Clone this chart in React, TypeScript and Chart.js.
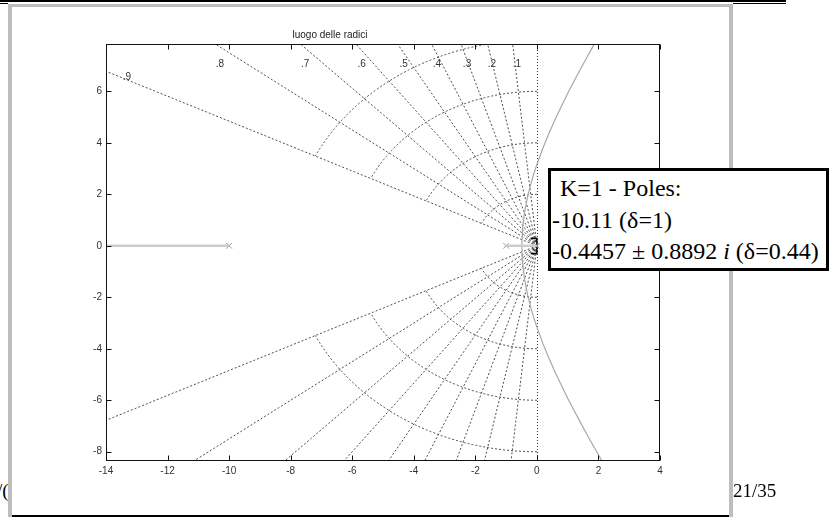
import React, { useEffect, useRef } from 'react';
import { Chart, registerables } from 'chart.js';

Chart.register(...registerables);

// ---- data ----
const titleText = 'luogo delle radici';
const xTicks = [-14, -12, -10, -8, -6, -4, -2, 0, 2, 4];
const yTicks = [-8, -6, -4, -2, 0, 2, 4, 6];
const xMin = -14;
const xMax = 4;
const yMin = -8.36;
const yMax = 7.84;

// open-loop poles (x markers)
const poleRe = [-10, -1, 0];
const poleIm = [0, 0, 0];

// real-axis parts of the locus
const realBranchLeftX = [-10, -14];
const realBranchInnerX = [-1, 0];

// upper complex branch (lower one is its conjugate)
const locusX = [-0.487, -0.48, -0.47, -0.45, -0.4, -0.3, -0.2, -0.1, 0, 0.2, 0.4, 0.6, 0.8, 1.0, 1.2, 1.4, 1.6, 1.8, 2.0, 2.12];
const locusY = [0, 0.36, 0.57, 0.84, 1.3, 1.92, 2.39, 2.8, 3.16, 3.81, 4.39, 4.93, 5.43, 5.92, 6.38, 6.83, 7.27, 7.7, 8.12, 8.37];

// s-grid: damping lines and natural-frequency arcs
const dampingValues = [0.1, 0.2, 0.3, 0.4, 0.5, 0.6, 0.7, 0.8, 0.9];
const wnValues = [2, 4, 6, 8];
const dampingLabels = ['.9', '.8', '.7', '.6', '.5', '.4', '.3', '.2', '.1'];
const dampingLabelX = [-13.32, -10.3, -7.53, -5.69, -4.33, -3.25, -2.27, -1.46, -0.65];
const dampingLabelY = [6.53, 7.05, 7.05, 7.05, 7.05, 7.05, 7.05, 7.05, 7.05];

// small data-cursor bracket near the origin
const cursorX = [-0.2, 0, 0, -0.2];
const cursorY = [0.28, 0.28, -0.3, -0.3];

const sansFont = '"Liberation Sans", Arial, Helvetica, sans-serif';
const serifFont = '"Liberation Serif", "Times New Roman", Times, serif';

const sgridPlugin = {
  id: 'sgrid',
  beforeDatasetsDraw(chart: any) {
    const { ctx, chartArea: a, scales } = chart;
    const x = scales.x;
    const y = scales.y;
    ctx.save();
    ctx.beginPath();
    ctx.rect(a.left, a.top, a.right - a.left, a.bottom - a.top);
    ctx.clip();
    const ox = x.getPixelForValue(0);
    const oy = y.getPixelForValue(0);
    const far = 60;
    ctx.strokeStyle = '#3a3a3a';
    ctx.lineWidth = 0.9;
    ctx.setLineDash([2, 2]);
    for (const z of dampingValues) {
      const s = Math.sqrt(1 - z * z);
      for (const sign of [1, -1]) {
        ctx.beginPath();
        ctx.moveTo(ox, oy);
        ctx.lineTo(x.getPixelForValue(-z * far), y.getPixelForValue(sign * s * far));
        ctx.stroke();
      }
    }
    const phi = Math.acos(Math.max(...dampingValues));
    for (const wn of wnValues) {
      const rx = x.getPixelForValue(wn) - ox;
      const ry = oy - y.getPixelForValue(wn);
      ctx.beginPath();
      ctx.ellipse(ox, oy, rx, ry, 0, -Math.PI / 2, -Math.PI + phi, true);
      ctx.stroke();
      ctx.beginPath();
      ctx.ellipse(ox, oy, rx, ry, 0, Math.PI / 2, Math.PI - phi, false);
      ctx.stroke();
    }
    ctx.setLineDash([1, 2]);
    ctx.lineWidth = 1;
    const vx = Math.round(ox) + 0.5;
    ctx.beginPath();
    ctx.moveTo(vx, a.top);
    ctx.lineTo(vx, a.bottom);
    ctx.stroke();
    ctx.restore();
  },
  afterDatasetsDraw(chart: any) {
    const { ctx, scales } = chart;
    ctx.save();
    ctx.font = '10px ' + sansFont;
    ctx.fillStyle = '#333';
    ctx.textAlign = 'center';
    ctx.textBaseline = 'middle';
    dampingLabels.forEach((t, i) => {
      ctx.fillText(t, scales.x.getPixelForValue(dampingLabelX[i]), scales.y.getPixelForValue(dampingLabelY[i]));
    });
    ctx.restore();
  },
};

const axesBoxPlugin = {
  id: 'axesBox',
  afterDraw(chart: any) {
    const { ctx, chartArea: a, scales } = chart;
    ctx.save();
    ctx.strokeStyle = '#111';
    ctx.lineWidth = 1;
    ctx.setLineDash([]);
    const L = Math.round(a.left) + 0.5;
    const R = Math.round(a.right) - 0.5;
    const T = Math.round(a.top) + 0.5;
    const B = Math.round(a.bottom) - 0.5;
    ctx.strokeRect(L, T, R - L, B - T);
    const len = 5;
    ctx.beginPath();
    for (const v of xTicks) {
      const px = Math.round(scales.x.getPixelForValue(v)) + 0.5;
      ctx.moveTo(px, B);
      ctx.lineTo(px, B - len);
      ctx.moveTo(px, T);
      ctx.lineTo(px, T + len);
    }
    for (const v of yTicks) {
      const py = Math.round(scales.y.getPixelForValue(v)) + 0.5;
      ctx.moveTo(L, py);
      ctx.lineTo(L + len, py);
      ctx.moveTo(R, py);
      ctx.lineTo(R - len, py);
    }
    ctx.stroke();
    ctx.restore();
  },
};

export default function App() {
  const canvasRef = useRef<HTMLCanvasElement | null>(null);

  useEffect(() => {
    const canvas = canvasRef.current;
    if (!canvas) return;
    const pts = (xs: number[], ys: number[]) => xs.map((v, i) => ({ x: v, y: ys[i] }));
    const chart = new Chart(canvas, {
      type: 'scatter',
      data: {
        datasets: [
          {
            data: pts(realBranchLeftX, [0, 0]),
            showLine: true,
            borderColor: '#cdcdcd',
            borderWidth: 2.5,
            pointRadius: 0,
            clip: 0,
          },
          {
            data: pts(realBranchInnerX, [0, 0]),
            showLine: true,
            borderColor: '#cdcdcd',
            borderWidth: 2.5,
            pointRadius: 0,
            clip: 0,
          },
          {
            data: pts(locusX, locusY),
            showLine: true,
            borderColor: '#a8a8a8',
            borderWidth: 1.2,
            pointRadius: 0,
            clip: 0,
          },
          {
            data: pts(locusX, locusY.map((v) => -v)),
            showLine: true,
            borderColor: '#a8a8a8',
            borderWidth: 1.2,
            pointRadius: 0,
            clip: 0,
          },
          {
            data: pts(poleRe, poleIm),
            showLine: false,
            pointStyle: 'crossRot',
            pointRadius: 4,
            borderColor: '#999',
            borderWidth: 1,
            clip: 0,
          },
          {
            data: pts(cursorX, cursorY),
            showLine: true,
            borderColor: '#000',
            borderWidth: 1.5,
            pointRadius: 0,
            clip: 0,
          },
        ],
      } as any,
      options: {
        responsive: false,
        animation: false,
        events: [],
        layout: { padding: { left: 0, right: 169, top: 0, bottom: 0 } },
        plugins: {
          legend: { display: false },
          tooltip: { enabled: false },
          title: {
            display: true,
            text: titleText,
            color: '#222',
            font: { family: sansFont, size: 10, weight: 'normal' },
            padding: { top: 29, bottom: 3 },
          },
        },
        scales: {
          x: {
            type: 'linear',
            min: xMin,
            max: xMax,
            afterBuildTicks: (s: any) => {
              s.ticks = xTicks.map((v) => ({ value: v }));
            },
            afterFit: (s: any) => {
              s.height = 56;
            },
            grid: { display: false, drawTicks: false },
            border: { display: false },
            ticks: {
              color: '#333',
              font: { family: sansFont, size: 10 },
              padding: 4,
              maxRotation: 0,
              autoSkip: false,
            },
          },
          y: {
            type: 'linear',
            min: yMin,
            max: yMax,
            afterBuildTicks: (s: any) => {
              s.ticks = yTicks.map((v) => ({ value: v }));
            },
            afterFit: (s: any) => {
              s.width = 106;
            },
            grid: { display: false, drawTicks: false },
            border: { display: false },
            ticks: {
              color: '#333',
              font: { family: sansFont, size: 10 },
              padding: 4,
              autoSkip: false,
            },
          },
        },
      } as any,
      plugins: [sgridPlugin, axesBoxPlugin],
    });
    return () => chart.destroy();
  }, []);

  return (
    <div
      style={{
        position: 'absolute',
        left: 0,
        top: 0,
        width: 829,
        height: 517,
        overflow: 'hidden',
        background: '#fff',
      }}
    >
      {/* slide rules at the top */}
      <div style={{ position: 'absolute', left: 0, top: 0, width: 786, height: 2, background: '#000' }} />
      <div style={{ position: 'absolute', left: 0, top: 3, width: 8, height: 1, background: '#000' }} />
      <div style={{ position: 'absolute', left: 733, top: 3, width: 53, height: 1, background: '#000' }} />
      {/* slide text partly hidden by the picture */}
      <div
        style={{
          position: 'absolute',
          left: -3,
          top: 481,
          fontFamily: serifFont,
          fontSize: 19,
          lineHeight: '19px',
          color: '#000',
          whiteSpace: 'nowrap',
        }}
      >
        /(
      </div>
      {/* picture frame */}
      <div
        style={{
          position: 'absolute',
          left: 8,
          top: 4,
          width: 717,
          height: 520,
          borderTop: '3px solid #bdbdbd',
          borderLeft: '4px solid #bdbdbd',
          borderRight: '4px solid #bdbdbd',
          background: '#fff',
        }}
      />
      <div style={{ position: 'absolute', left: 12, top: 515, width: 717, height: 2, background: '#000' }} />
      <canvas
        ref={canvasRef}
        width={829}
        height={517}
        style={{ position: 'absolute', left: 0, top: 0, width: 829, height: 517 }}
      />
      {/* annotation box */}
      <div
        style={{
          position: 'absolute',
          left: 548,
          top: 168,
          width: 274,
          border: '3px solid #000',
          background: '#fff',
          paddingTop: 2,
          paddingLeft: 1,
          fontFamily: serifFont,
          fontSize: 24,
          lineHeight: '31.5px',
          color: '#000',
          whiteSpace: 'nowrap',
        }}
      >
        <div style={{ marginLeft: 8 }}>K=1 - Poles:</div>
        <div>-10.11 (δ=1)</div>
        <div>
          -0.4457 ± 0.8892 <i>i</i> (δ=0.44)
        </div>
      </div>
      {/* page number */}
      <div
        style={{
          position: 'absolute',
          left: 733,
          top: 481,
          fontFamily: serifFont,
          fontSize: 19,
          lineHeight: '19px',
          color: '#000',
          whiteSpace: 'nowrap',
        }}
      >
        21/35
      </div>
    </div>
  );
}
